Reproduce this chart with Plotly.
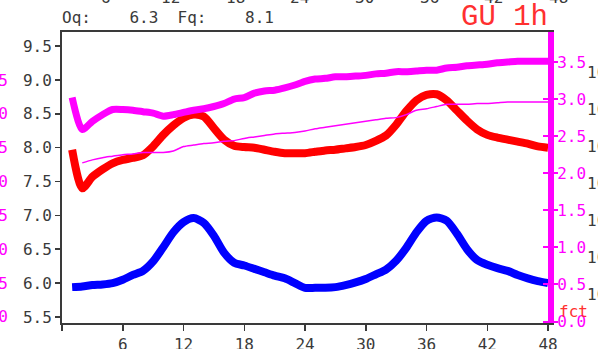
import plotly.graph_objects as go

# ---------------- data ----------------
HOURS = list(range(1, 49))
THIN_HOURS = list(range(2, 49))

RED = [7.97, 7.40, 7.57, 7.68, 7.77, 7.82, 7.85, 7.89, 8.02, 8.19,
       8.33, 8.44, 8.49, 8.46, 8.29, 8.12, 8.03, 8.01, 8.00, 7.97,
       7.94, 7.92, 7.92, 7.92, 7.94, 7.96, 7.97, 7.99, 8.01, 8.04,
       8.10, 8.18, 8.34, 8.54, 8.70, 8.78, 8.79, 8.70, 8.55, 8.40,
       8.27, 8.19, 8.15, 8.12, 8.09, 8.06, 8.02, 8.00]

BLUE = [5.94, 5.95, 5.97, 5.98, 6.00, 6.05, 6.12, 6.18, 6.32, 6.53,
        6.75, 6.90, 6.96, 6.89, 6.70, 6.45, 6.30, 6.26, 6.21, 6.16,
        6.11, 6.07, 6.00, 5.93, 5.93, 5.93, 5.94, 5.97, 6.01, 6.06,
        6.13, 6.20, 6.33, 6.52, 6.75, 6.92, 6.97, 6.92, 6.73, 6.50,
        6.34, 6.27, 6.22, 6.18, 6.12, 6.07, 6.03, 6.00]

MAG_THICK = [3.02, 2.59, 2.70, 2.79, 2.86, 2.86, 2.85, 2.83, 2.81, 2.77,
             2.79, 2.82, 2.85, 2.87, 2.90, 2.94, 3.00, 3.02, 3.08, 3.11,
             3.12, 3.15, 3.19, 3.24, 3.27, 3.28, 3.30, 3.30, 3.31, 3.32,
             3.34, 3.35, 3.37, 3.37, 3.38, 3.39, 3.39, 3.42, 3.43, 3.45,
             3.46, 3.47, 3.49, 3.50, 3.51, 3.51, 3.51, 3.51]

MAG_THIN = [2.14, 2.18, 2.21, 2.23, 2.25, 2.26, 2.28, 2.28, 2.28,
            2.30, 2.36, 2.38, 2.40, 2.41, 2.43, 2.44, 2.47, 2.49, 2.51,
            2.53, 2.54, 2.55, 2.57, 2.60, 2.62, 2.64, 2.66, 2.68, 2.70,
            2.72, 2.74, 2.75, 2.79, 2.85, 2.87, 2.90, 2.93, 2.93, 2.93,
            2.94, 2.94, 2.95, 2.96, 2.96, 2.96, 2.96, 2.96]

X_TICKS = [0, 6, 12, 18, 24, 30, 36, 42, 48]
X_TICK_TEXT = ["", "6", "12", "18", "24", "30", "36", "42", "48"]
LEFT_TICKS = [5.5, 6.0, 6.5, 7.0, 7.5, 8.0, 8.5, 9.0, 9.5]
RIGHT_TICKS = [0.0, 0.5, 1.0, 1.5, 2.0, 2.5, 3.0, 3.5]
TOP_LABELS = ["6", "12", "18", "24", "30", "36", "42", "48"]
HEADER = "Oq:    6.3  Fq:    8.1"
TITLE = "GU 1h"

# ---------------- style ----------------
W, H = 598, 349
ML, MR, MT, MB = 62, 50, 32, 26
PW, PH = W - ML - MR, H - MT - MB
FONT = "DejaVu Sans Mono"
GREY = "#3a3a3a"
MAG = "#ff00ff"


def px_to_paper_x(p):
    return (p - ML) / PW


def px_to_paper_y(p):
    return 1 + (MT - p) / PH


fig = go.Figure()
fig.add_trace(go.Scatter(x=HOURS, y=MAG_THICK, yaxis="y2", mode="lines",
                         line=dict(color=MAG, width=7, shape="spline", smoothing=0.7),
                         hoverinfo="skip"))
fig.add_trace(go.Scatter(x=HOURS, y=RED, mode="lines",
                         line=dict(color="#ff0000", width=8, shape="spline", smoothing=0.7),
                         hoverinfo="skip"))
fig.add_trace(go.Scatter(x=THIN_HOURS, y=MAG_THIN, yaxis="y3", mode="lines",
                         line=dict(color=MAG, width=1.5, shape="spline", smoothing=0.7),
                         hoverinfo="skip"))
fig.add_trace(go.Scatter(x=HOURS, y=BLUE, mode="lines",
                         line=dict(color="#0000ff", width=8, shape="spline", smoothing=0.7),
                         hoverinfo="skip"))

tickfont = dict(family=FONT, size=16, color=GREY)
magfont = dict(family=FONT, size=16, color=MAG)

annotations = []
# header text
annotations.append(dict(text=HEADER.replace(" ", "\u00a0"), xref="paper", yref="paper",
                        x=px_to_paper_x(60), y=px_to_paper_y(18), xanchor="left",
                        yanchor="middle", showarrow=False, font=dict(family=FONT, size=16, color=GREY)))
annotations.append(dict(text=TITLE.replace(" ", "\u00a0"), xref="paper", yref="paper",
                        x=px_to_paper_x(550), y=px_to_paper_y(18), xanchor="right",
                        yanchor="middle", showarrow=False,
                        font=dict(family="Liberation Mono", size=29, color="#ff3030")))
# cut-off top labels of neighbouring panel
for i, t in enumerate(TOP_LABELS):
    annotations.append(dict(text=t, xref="paper", yref="paper",
                            x=px_to_paper_x(106 + 64.6 * i), y=px_to_paper_y(-2),
                            xanchor="center", yanchor="middle", showarrow=False, font=tickfont))
# cut-off magenta labels at left edge (neighbouring panel)
for v, t in zip(LEFT_TICKS[::-1][1:], RIGHT_TICKS[::-1]):
    annotations.append(dict(text=f"{t:.1f}", xref="paper", yref="y",
                            x=px_to_paper_x(10), y=v, xanchor="right", yanchor="middle",
                            showarrow=False, font=magfont))
# cut-off black labels at right edge
for v in RIGHT_TICKS[1:]:
    annotations.append(dict(text="10", xref="paper", yref="y2",
                            x=px_to_paper_x(585), y=v, yshift=-10, xanchor="left",
                            yanchor="middle", showarrow=False, font=tickfont))
annotations.append(dict(text="fct", xref="paper", yref="paper",
                        x=px_to_paper_x(557), y=px_to_paper_y(311), xanchor="left",
                        yanchor="middle", showarrow=False,
                        font=dict(family=FONT, size=16, color="#ff3030")))

fig.update_layout(
    width=W, height=H,
    margin=dict(l=ML, r=MR, t=MT, b=MB, pad=0, autoexpand=False),
    paper_bgcolor="white", plot_bgcolor="white",
    showlegend=False,
    xaxis=dict(range=[0, 48], tickvals=X_TICKS, ticktext=X_TICK_TEXT,
               ticks="outside", ticklen=6, tickwidth=1.5, tickcolor=GREY,
               showline=True, linecolor=GREY, linewidth=2, mirror=True,
               showgrid=False, zeroline=False, tickfont=tickfont),
    yaxis=dict(range=[5.41, 9.71], tickvals=LEFT_TICKS,
               ticktext=[f"{v:.1f}" for v in LEFT_TICKS],
               ticks="outside", ticklen=5, tickwidth=1.5, tickcolor=GREY,
               showline=True, linecolor=GREY, linewidth=2,
               showgrid=False, zeroline=False, tickfont=tickfont),
    yaxis2=dict(range=[-0.02, 3.905], overlaying="y", side="right", anchor="x",
                tickvals=RIGHT_TICKS, ticktext=[f"{v:.1f}" for v in RIGHT_TICKS],
                ticks="outside", ticklen=4, tickwidth=2, tickcolor=MAG,
                ticklabelstandoff=-4,
                showline=True, linecolor=MAG, linewidth=6,
                showgrid=False, zeroline=False, tickfont=magfont),
    yaxis3=dict(range=[-0.02, 3.905], overlaying="y", side="right", anchor="x",
                tickvals=RIGHT_TICKS, ticks="inside", ticklen=5, tickwidth=2,
                tickcolor=MAG, showticklabels=False, showline=False,
                showgrid=False, zeroline=False),
    annotations=annotations,
)

fig.write_html(
    "out.html",
    config={"displayModeBar": False, "staticPlot": True},
    post_script="document.body.style.margin='0';document.body.style.overflow='hidden';",
)
